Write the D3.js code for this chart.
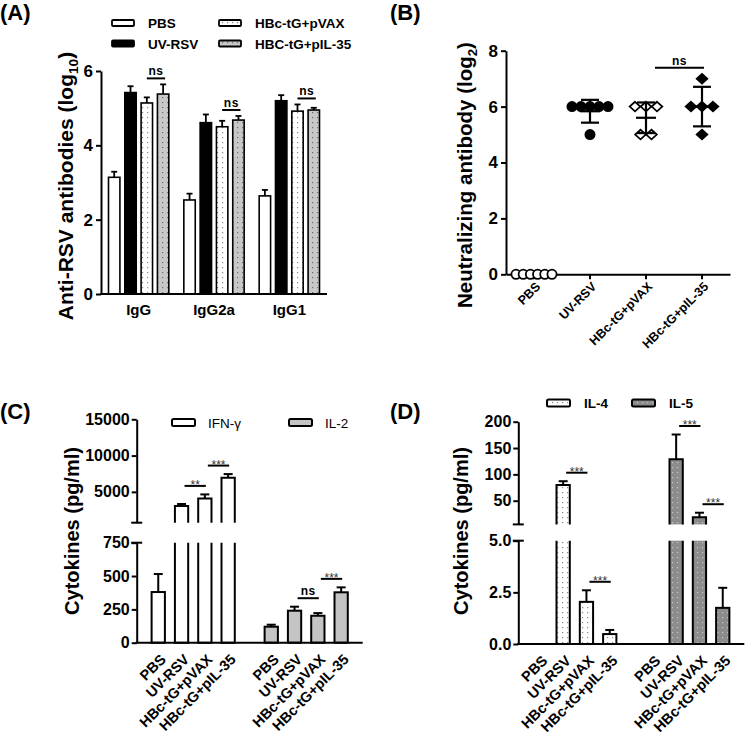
<!DOCTYPE html>
<html><head><meta charset="utf-8">
<script src="https://cdn.jsdelivr.net/npm/d3@7"></script>
<style>
body{margin:0;background:#fff;}
svg{display:block;}
</style></head><body>
<svg id="chart" width="750" height="738"></svg>
<script>
// ================= DATA =================
// Panel A
const aGroups = ["IgG", "IgG2a", "IgG1"];
const aSeries = ["PBS", "UV-RSV", "HBc-tG+pVAX", "HBC-tG+pIL-35"];
const aPBS = [3.14, 2.53, 2.64];   const aPBSerr = [0.15, 0.17, 0.16];
const aUV = [5.42, 4.61, 5.20];    const aUVerr = [0.17, 0.22, 0.15];
const aPVAX = [5.14, 4.50, 4.92];  const aPVAXerr = [0.15, 0.16, 0.18];
const aPIL = [5.38, 4.68, 4.95];   const aPILerr = [0.26, 0.11, 0.06];
const aTicks = [0, 2, 4, 6];
const aSig = [["IgG", 2, 3, "ns"], ["IgG2a", 2, 3, "ns"], ["IgG1", 2, 3, "ns"]];

// Panel B
const bGroups = ["PBS", "UV-RSV", "HBc-tG+pVAX", "HBc-tG+pIL-35"];
const bPBS = [0, 0, 0, 0, 0, 0];
const bUV = [6, 6, 6, 6, 6, 5];
const bPVAX = [6, 6, 6, 5, 5];
const bPIL = [7, 6, 6, 6, 5];
const bTicks = [0, 2, 4, 6, 8];
const bSig = [[2, 3, "ns"]];

// Panels C / D (shared categories)
const cytoCats = ["PBS", "UV-RSV", "HBc-tG+pVAX", "HBc-tG+pIL-35"];
const cSeries = ["IFN-γ", "IL-2"];
const cIFN = [380, 3050, 4100, 6950];  const cIFNerr = [135, 275, 550, 500];
const cIL2 = [120, 240, 202, 378];     const cIL2err = [15, 30, 20, 37];
const cTicksLow = [0, 250, 500, 750];  const cTicksHigh = [5000, 10000, 15000];
const cSig = [[0, 1, 2, "**"], [0, 2, 3, "***"], [1, 1, 2, "ns"], [1, 2, 3, "***"]];

const dSeries = ["IL-4", "IL-5"];
const dIL4 = [0, 80, 2.04, 0.48];      const dIL4err = [0, 7, 0.56, 0.2];
const dIL5 = [0, 128.7, 18.5, 1.75];   const dIL5err = [0, 47, 8.7, 0.97];
const dTicksLow = [0, 2.5, 5];         const dTicksHigh = [50, 100, 150, 200];
const dSig = [[0, 1, 2, "***"], [0, 2, 3, "***"], [1, 1, 2, "***"], [1, 2, 3, "***"]];

// ================= DRAWING =================
const FONT = "'Liberation Sans', Arial, Helvetica, sans-serif";
const svg = d3.select("#chart").attr("font-family", FONT);
const defs = svg.append("defs");
function dotPattern(id, bg, dot) {
  const p = defs.append("pattern").attr("id", id).attr("width", 5).attr("height", 5)
    .attr("patternUnits", "userSpaceOnUse");
  p.append("rect").attr("width", 5).attr("height", 5).attr("fill", bg);
  p.append("rect").attr("x", 2).attr("y", 2).attr("width", 1.2).attr("height", 1.2).attr("fill", dot);
}
dotPattern("dotW", "#ffffff", "#8a8a8a");
dotPattern("dotL", "#c8c8c8", "#6e6e6e");
dotPattern("dotD", "#8c8c8c", "#c4c4c4");

function styleAxis(g, fs, bold = true) {
  g.attr("font-family", FONT).attr("font-size", fs);
  g.selectAll("path.domain").attr("stroke", "#000").attr("stroke-width", 2);
  g.selectAll(".tick line").attr("stroke", "#000").attr("stroke-width", 2);
  g.selectAll(".tick text").attr("fill", "#000").attr("font-weight", bold ? "bold" : "normal");
}
function panelLabel(t, x, y) {
  svg.append("text").attr("x", x).attr("y", y).attr("font-size", 22).attr("font-weight", "bold").text(t);
}
function yLabel(x, y, fs, parts) {
  const t = svg.append("text").attr("transform", `translate(${x},${y}) rotate(-90)`)
    .attr("text-anchor", "middle").attr("font-size", fs).attr("font-weight", "bold");
  parts.forEach(p => {
    const ts = t.append("tspan").text(p.t);
    if (p.sub) ts.attr("font-size", fs * 0.65).attr("dy", fs * 0.25);
    else if (p.after) ts.attr("dy", -fs * 0.25);
  });
}
function sigMark(x1, x2, y, label) {
  svg.append("line").attr("x1", x1).attr("x2", x2).attr("y1", y).attr("y2", y)
    .attr("stroke", "#000").attr("stroke-width", 2);
  if (label === "ns") {
    svg.append("text").attr("x", (x1 + x2) / 2).attr("y", y - 3).attr("text-anchor", "middle")
      .attr("font-size", 12).attr("font-weight", "bold").attr("letter-spacing", 0.5).text(label);
  } else {
    svg.append("text").attr("x", (x1 + x2) / 2).attr("y", y + 3).attr("text-anchor", "middle")
      .attr("font-size", 12).attr("fill", "#333").text(label);
  }
}

// ---------- Panel A ----------
panelLabel("(A)", 0, 20);
{
  const means = [aPBS, aUV, aPVAX, aPIL];
  const errs = [aPBSerr, aUVerr, aPVAXerr, aPILerr];
  const fills = ["#fff", "#000", "url(#dotW)", "url(#dotL)"];
  const x = d3.scaleBand().domain(aGroups).range([101, 327]).padding(0);
  const xi = d3.scaleBand().domain(d3.range(aSeries.length)).range([0, x.bandwidth()])
    .paddingInner(0.3).paddingOuter(0.46);
  const y = d3.scaleLinear().domain([0, 6]).range([294, 71]);
  const g = svg.append("g");
  aSeries.forEach((s, si) => {
    aGroups.forEach((grp, gi) => {
      const bx = x(grp) + xi(si), w = xi.bandwidth(), cx = bx + w / 2;
      const v = means[si][gi], e = errs[si][gi];
      g.append("line").attr("x1", cx).attr("x2", cx).attr("y1", y(v)).attr("y2", y(v + e))
        .attr("stroke", "#000").attr("stroke-width", 1.8);
      g.append("line").attr("x1", cx - 3).attr("x2", cx + 3).attr("y1", y(v + e)).attr("y2", y(v + e))
        .attr("stroke", "#000").attr("stroke-width", 1.8);
      g.append("rect").attr("x", bx).attr("y", y(v)).attr("width", w).attr("height", y(0) - y(v))
        .attr("fill", fills[si]).attr("stroke", "#000").attr("stroke-width", 1.6);
    });
  });
  const ya = svg.append("g").attr("transform", "translate(101,0)")
    .call(d3.axisLeft(y).tickValues(aTicks).tickFormat(d3.format("d")).tickSize(5).tickSizeOuter(0).tickPadding(3));
  styleAxis(ya, 17);
  svg.append("line").attr("x1", 100).attr("x2", 327).attr("y1", 294).attr("y2", 294)
    .attr("stroke", "#000").attr("stroke-width", 2);
  aGroups.forEach(grp => {
    svg.append("text").attr("x", x(grp) + x.bandwidth() / 2).attr("y", 315).attr("text-anchor", "middle")
      .attr("font-size", 15).attr("font-weight", "bold").text(grp);
  });
  aSig.forEach(([grp, a, b, lab]) => {
    const gi = aGroups.indexOf(grp);
    const top = Math.max(means[a][gi] + errs[a][gi], means[b][gi] + errs[b][gi]);
    const ca = x(grp) + xi(a) + xi.bandwidth() / 2, cb = x(grp) + xi(b) + xi.bandwidth() / 2;
    sigMark(ca, cb + 2, y(top) - 6, lab);
  });
  yLabel(73, 186, 21, [{t: "Anti-RSV antibodies (log"}, {t: "10", sub: true}, {t: ")", after: true}]);
  const lx = [112, 219], ly = [23, 43.5];
  aSeries.forEach((s, i) => {
    const col = i < 2 ? 0 : 1, row = i % 2;
    svg.append("rect").attr("x", lx[col]).attr("y", ly[row] - 3).attr("width", 22).attr("height", 6)
      .attr("rx", 1).attr("fill", fills[i]).attr("stroke", "#000").attr("stroke-width", 1.8);
    svg.append("text").attr("x", lx[col] + 36).attr("y", ly[row] + 5).attr("font-size", 13.5)
      .attr("font-weight", "bold").text(s);
  });
}

// ---------- Panel B ----------
panelLabel("(B)", 390, 20);
{
  const vals = [bPBS, bUV, bPVAX, bPIL];
  const x = d3.scaleBand().domain(bGroups).range([506, 730]).padding(0);
  const y = d3.scaleLinear().domain([0, 8]).range([274.3, 50.7]);
  const ya = svg.append("g").attr("transform", "translate(506,0)")
    .call(d3.axisLeft(y).tickValues(bTicks).tickFormat(d3.format("d")).tickSize(5).tickSizeOuter(0).tickPadding(3));
  styleAxis(ya, 17);
  const xa = svg.append("g").attr("transform", "translate(0,274.3)")
    .call(d3.axisBottom(x).tickSize(5).tickSizeOuter(0).tickPadding(4));
  styleAxis(xa, 12.5);
  xa.selectAll(".tick text").attr("text-anchor", "end").attr("dy", "0.35em")
    .attr("transform", "translate(4,10) rotate(-45)").attr("y", 0).attr("x", 0);
  const markers = ["circleOpen", "circleFill", "diaOpen", "diaFill"];
  bGroups.forEach((grp, gi) => {
    const cx = x(grp) + x.bandwidth() / 2;
    const arr = vals[gi];
    const counts = d3.rollup(arr, v => v.length, d => d);
    const seen = new Map();
    const m = markers[gi];
    arr.forEach(v => {
      const n = counts.get(v), k = seen.get(v) || 0; seen.set(v, k + 1);
      const sp = Math.min(11, 36 / Math.max(1, n - 1));
      const px = cx + (k - (n - 1) / 2) * sp, py = y(v);
      const filled = m.endsWith("Fill");
      if (m.startsWith("circle")) {
        svg.append("circle").attr("cx", px).attr("cy", py).attr("r", 4.6)
          .attr("fill", filled ? "#000" : "#fff").attr("stroke", "#000").attr("stroke-width", 1.8);
      } else {
        svg.append("path").attr("d", `M${px},${py - 4.8}L${px + 5.3},${py}L${px},${py + 4.8}L${px - 5.3},${py}Z`)
          .attr("fill", filled ? "#000" : "#fff").attr("stroke", "#000").attr("stroke-width", 1.8);
      }
    });
    const mean = d3.mean(arr), sd = d3.deviation(arr) || 0;
    if (sd > 0) {
      const gE = svg.append("g").attr("stroke", "#000").attr("stroke-width", 2.2);
      gE.append("line").attr("x1", cx).attr("x2", cx).attr("y1", y(mean - sd)).attr("y2", y(mean + sd));
      gE.append("line").attr("x1", cx - 10).attr("x2", cx + 10).attr("y1", y(mean)).attr("y2", y(mean));
      gE.append("line").attr("x1", cx - 9).attr("x2", cx + 9).attr("y1", y(mean + sd)).attr("y2", y(mean + sd));
      gE.append("line").attr("x1", cx - 9).attr("x2", cx + 9).attr("y1", y(mean - sd)).attr("y2", y(mean - sd));
    }
  });
  bSig.forEach(([a, b, lab]) => {
    const top = Math.max(d3.max(vals[a]), d3.max(vals[b]));
    sigMark(x(bGroups[a]) + x.bandwidth() / 2 + 9, x(bGroups[b]) + x.bandwidth() / 2 + 2, y(top) - 11, lab);
  });
  yLabel(472, 175, 20.5, [{t: "Neutralizing antibody (log"}, {t: "2", sub: true}, {t: ")", after: true}]);
}

// ---------- Broken-axis bar panels (C, D) ----------
function brokenPanel(o) {
  const x = d3.scaleBand().domain(o.series).range([o.x0, o.x1]).padding(0);
  const xi = d3.scaleBand().domain(cytoCats).range([0, x.bandwidth()]).paddingInner(0.43).paddingOuter(0.64);
  const yLow = d3.scaleLinear().domain(o.lowDom).range(o.lowRange);
  const yHigh = d3.scaleLinear().domain(o.highDom).range(o.highRange);
  const lowMax = o.lowDom[1];
  const yv = v => v <= lowMax ? yLow(v) : yHigh(v);
  const base = yLow(0);
  o.values.forEach((vals, si) => {
    const grp = o.series[si];
    vals.forEach((v, ci) => {
      if (v <= 0) return;
      const bx = x(grp) + xi(cytoCats[ci]), w = xi.bandwidth(), cx = bx + w / 2;
      const e = o.errs[si][ci];
      svg.append("line").attr("x1", cx).attr("x2", cx).attr("y1", yv(v)).attr("y2", yv(v + e))
        .attr("stroke", "#000").attr("stroke-width", 2);
      svg.append("line").attr("x1", cx - 4.5).attr("x2", cx + 4.5).attr("y1", yv(v + e)).attr("y2", yv(v + e))
        .attr("stroke", "#000").attr("stroke-width", 2);
      const fill = o.fills[si];
      if (v <= lowMax) {
        svg.append("rect").attr("x", bx).attr("y", yLow(v)).attr("width", w).attr("height", base - yLow(v))
          .attr("fill", fill).attr("stroke", "#000").attr("stroke-width", 2);
      } else {
        const lt = yLow(lowMax);
        svg.append("rect").attr("x", bx).attr("y", lt).attr("width", w).attr("height", base - lt).attr("fill", fill);
        svg.append("path").attr("d", `M${bx},${lt}V${base}H${bx + w}V${lt}`)
          .attr("fill", "none").attr("stroke", "#000").attr("stroke-width", 2);
        const hb = yHigh(lowMax), ht = yHigh(v);
        svg.append("rect").attr("x", bx).attr("y", ht).attr("width", w).attr("height", hb - ht).attr("fill", fill);
        svg.append("path").attr("d", `M${bx},${hb}V${ht}H${bx + w}V${hb}`)
          .attr("fill", "none").attr("stroke", "#000").attr("stroke-width", 2);
      }
    });
    cytoCats.forEach((c, ci) => {
      const cx = x(grp) + xi(c) + xi.bandwidth() / 2;
      svg.append("text").attr("transform", `translate(${cx + 5},${base + 14}) rotate(-45)`)
        .attr("text-anchor", "end").attr("dy", "0.35em").attr("font-size", 14.5).attr("font-weight", "bold").text(c);
    });
  });
  const a1 = svg.append("g").attr("transform", `translate(${o.x0},0)`)
    .call(d3.axisLeft(yLow).tickValues(o.ticksLow).tickFormat(o.fmt).tickSize(5).tickSizeOuter(0).tickPadding(2));
  styleAxis(a1, 16);
  const a2 = svg.append("g").attr("transform", `translate(${o.x0},0)`)
    .call(d3.axisLeft(yHigh).tickValues(o.ticksHigh).tickFormat(o.fmtHigh).tickSize(5).tickSizeOuter(0).tickPadding(2));
  styleAxis(a2, 16);
  [yLow(lowMax), yHigh(lowMax)].forEach(yy => {
    svg.append("line").attr("x1", o.x0 - 5.5).attr("x2", o.x0 + 5.5).attr("y1", yy).attr("y2", yy)
      .attr("stroke", "#000").attr("stroke-width", 2);
  });
  svg.append("line").attr("x1", o.x0 - 1).attr("x2", o.x1).attr("y1", base).attr("y2", base)
    .attr("stroke", "#000").attr("stroke-width", 2);
  o.sig.forEach(([si, a, b, lab]) => {
    const grp = o.series[si];
    const top = Math.max(o.values[si][a] + o.errs[si][a], o.values[si][b] + o.errs[si][b]);
    const ca = x(grp) + xi(cytoCats[a]) + xi.bandwidth() / 2, cb = x(grp) + xi(cytoCats[b]) + xi.bandwidth() / 2;
    sigMark(ca + 3, cb + 1, yv(top) - 8.5, lab);
  });
  o.series.forEach((s, si) => {
    const lx = o.legX[si];
    svg.append("rect").attr("x", lx).attr("y", o.legY - 3.5).attr("width", 23).attr("height", 7).attr("rx", 1.5)
      .attr("fill", o.fills[si]).attr("stroke", "#000").attr("stroke-width", 2);
    svg.append("text").attr("x", lx + o.legGap).attr("y", o.legY + 5).attr("font-size", 13.5)
      .attr("font-weight", o.legBold ? "bold" : "normal").text(s);
  });
}

panelLabel("(C)", 0, 419);
brokenPanel({
  series: cSeries, values: [cIFN, cIL2], errs: [cIFNerr, cIL2err],
  fills: ["#fff", "#c4c4c4"], x0: 136.7, x1: 362.7,
  lowDom: [0, 750], lowRange: [642.7, 542.7], highDom: [750, 15000], highRange: [522.7, 419.3],
  ticksLow: cTicksLow, ticksHigh: cTicksHigh, fmt: d3.format("d"), fmtHigh: d3.format("d"),
  sig: cSig, legX: [172, 289], legY: 422.5, legGap: 36, legBold: false
});
yLabel(79, 531, 20, [{t: "Cytokines (pg/ml)"}]);

panelLabel("(D)", 390, 419);
brokenPanel({
  series: dSeries, values: [dIL4, dIL5], errs: [dIL4err, dIL5err],
  fills: ["url(#dotW)", "url(#dotD)"], x0: 518.3, x1: 744.3,
  lowDom: [0, 5], lowRange: [644, 540.7], highDom: [5, 200], highRange: [524.4, 421.7],
  ticksLow: dTicksLow, ticksHigh: dTicksHigh, fmt: d3.format(".1f"), fmtHigh: d3.format("d"),
  sig: dSig, legX: [547, 632], legY: 403, legGap: 37, legBold: true
});
yLabel(468, 531, 20, [{t: "Cytokines (pg/ml)"}]);
</script>
</body></html>
